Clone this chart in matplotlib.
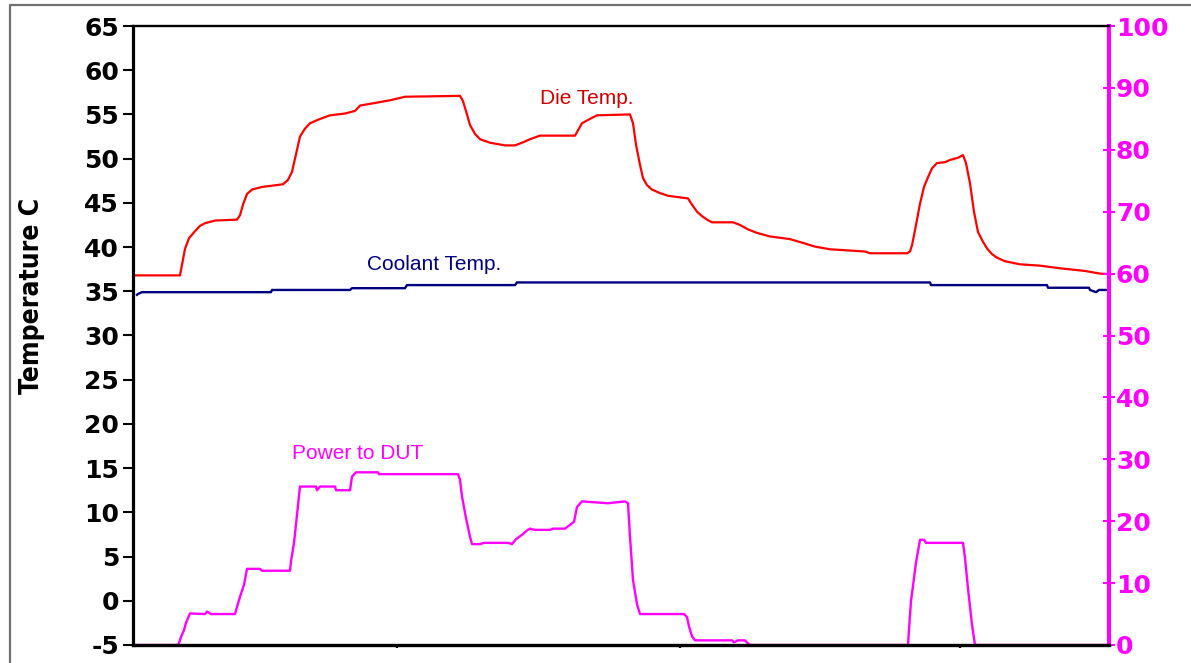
import matplotlib.pyplot as plt
from matplotlib.lines import Line2D

# time axis in arbitrary units (0 = left edge of plot)
die_t = [0, 47, 49, 52, 56, 62, 67, 72, 82, 104, 107, 110, 114, 119, 129, 150, 155, 159,
         163, 167, 172, 177, 185, 197, 212, 222, 227, 242, 257, 272, 327, 330, 334, 337,
         342, 347, 357, 372, 382, 389, 397, 407, 442, 445, 449, 457, 464, 497, 500, 503,
         507, 510, 514, 519, 527, 535, 555, 559, 564, 569, 574, 579, 600, 607, 615, 624,
         637, 657, 672, 682, 697, 732, 737, 774, 777, 779, 782, 787, 791, 795, 799, 804,
         812, 817, 825, 830, 833, 837, 841, 845, 850, 854, 859, 864, 872, 887, 907, 927,
         952, 967, 976]
die_temp = [36.8, 36.8, 38.0, 39.8, 41.0, 41.8, 42.4, 42.7, 43.0, 43.1, 43.6, 44.8, 46.0,
            46.5, 46.8, 47.1, 47.6, 48.5, 50.5, 52.5, 53.4, 54.0, 54.4, 54.9, 55.1, 55.4,
            56.0, 56.3, 56.6, 57.0, 57.1, 56.5, 55.0, 53.8, 52.8, 52.2, 51.8, 51.5, 51.5,
            51.8, 52.2, 52.6, 52.6, 53.2, 54.0, 54.5, 54.9, 55.0, 54.0, 51.6, 49.3, 47.8,
            47.0, 46.5, 46.1, 45.8, 45.5, 44.8, 44.0, 43.5, 43.1, 42.8, 42.8, 42.5, 42.0,
            41.6, 41.2, 40.9, 40.4, 40.05, 39.75, 39.5, 39.3, 39.3, 39.5, 40.2, 41.9, 44.9,
            46.8, 47.9, 48.9, 49.5, 49.6, 49.85, 50.1, 50.4, 49.5, 47.2, 44.0, 41.7, 40.6,
            39.85, 39.2, 38.8, 38.4, 38.05, 37.9, 37.6, 37.3, 37.0, 36.95]

cool_t = [4, 5, 9, 138, 139, 217, 219, 272, 274, 382, 384, 797, 798, 914, 915, 956, 957,
          963, 966, 976]
cool_temp = [34.6, 34.7, 34.9, 34.9, 35.15, 35.15, 35.35, 35.35, 35.7, 35.7, 36.0, 36.0,
             35.7, 35.7, 35.4, 35.4, 35.15, 34.9, 35.15, 35.15]

pow_t = [0, 45, 46, 48, 51, 53, 57, 72, 74, 78, 102, 103, 107, 111, 114, 127, 129, 157,
         158, 161, 164, 167, 183, 184, 187, 202, 203, 217, 219, 223, 245, 246, 325, 327,
         329, 333, 337, 339, 347, 351, 375, 379, 383, 389, 394, 397, 402, 417, 420, 432,
         441, 444, 449, 475, 492, 495, 497, 500, 504, 507, 551, 554, 556, 559, 562, 599,
         601, 605, 612, 614, 617, 775, 776, 778, 783, 787, 791, 793, 830, 832, 835, 839,
         842, 976]
power = [0, 0, 0.3, 1.3, 2.4, 3.6, 5.1, 5.0, 5.4, 5.0, 5.0, 5.6, 7.8, 9.7, 12.3, 12.3,
         12.0, 12.0, 13.5, 16.5, 21.0, 25.6, 25.6, 25.0, 25.6, 25.6, 25.0, 25.0, 27.2,
         27.9, 27.9, 27.6, 27.6, 26.7, 24.0, 20.5, 17.5, 16.3, 16.3, 16.5, 16.5, 16.3,
         17.1, 17.8, 18.5, 18.8, 18.6, 18.6, 18.8, 18.8, 19.9, 22.3, 23.2, 22.9, 23.2,
         22.9, 17.5, 10.5, 6.6, 5.0, 5.0, 4.5, 3.0, 1.4, 0.75, 0.75, 0.43, 0.75, 0.75,
         0.4, 0, 0, 2.5, 7.1, 13.3, 17.0, 17.0, 16.5, 16.5, 14.1, 9.1, 3.3, 0, 0]

left_ticks = list(range(-5, 70, 5))
right_ticks = list(range(0, 110, 10))
x_ticks = [264, 547, 827]

RED = '#ff0000'
NAVY = '#000080'
MAG = '#ff00ff'

W, H = 1191, 663
fig = plt.figure(figsize=(W / 100, H / 100), dpi=100)
ax = fig.add_axes([133 / W, 1 - 645 / H, (1109 - 133) / W, (645 - 26) / H])
ax2 = ax.twinx()

ax.plot(die_t, die_temp, color=RED, lw=1.6)
ax.plot(cool_t, cool_temp, color=NAVY, lw=1.7)
ax2.plot(pow_t, power, color=MAG, lw=1.7)

ax.set_xlim(0, 976)
ax.set_ylim(-5, 65)
ax2.set_ylim(0, 100)

tick_font = dict(family='DejaVu Sans', weight='bold', size=18)
ax.set_yticks(left_ticks)
ax.set_yticklabels([str(v) for v in left_ticks], fontdict=tick_font)
ax.tick_params(axis='y', direction='out', length=7, width=1.5, pad=3, color='black')
ax2.set_yticks(right_ticks)
ax2.set_yticklabels([str(v) for v in right_ticks], fontdict=tick_font, color=MAG)
ax2.tick_params(axis='y', direction='inout', length=8, width=1.5, pad=1, color=MAG)
ax.set_xticks(x_ticks)
ax.set_xticklabels([])
ax.tick_params(axis='x', direction='out', length=2, width=1.6, color='black')

for s in ax.spines.values():
    s.set_visible(False)
ax2.spines['left'].set_linewidth(2.3)
ax2.spines['bottom'].set_linewidth(2.4)
ax2.spines['top'].set_linewidth(1.7)
ax2.spines['right'].set_linewidth(2.9)
ax2.spines['right'].set_color(MAG)

fig.text(32 / W, 1 - 296 / H, 'Temperature C', rotation=90, ha='center', va='center',
         family='DejaVu Sans', stretch='condensed', weight='bold', fontsize=19)

lab_font = ['Liberation Sans', 'DejaVu Sans']
fig.text(587 / W, 1 - 104 / H, 'Die Temp.', color='#d00000', ha='center',
         va='baseline', family=lab_font, fontsize=15)
fig.text(434 / W, 1 - 270 / H, 'Coolant Temp.', color=NAVY, ha='center',
         va='baseline', family=lab_font, fontsize=15)
fig.text(358 / W, 1 - 459 / H, 'Power to DUT', color=MAG, ha='center',
         va='baseline', family=lab_font, fontsize=15)

# outer frame of the original chart window
fig.add_artist(Line2D([10 / W, 10 / W, 1], [0, 1 - 5 / H, 1 - 5 / H],
                      transform=fig.transFigure, color='#707070', lw=1.6))

fig.savefig('out.png', dpi=100)
